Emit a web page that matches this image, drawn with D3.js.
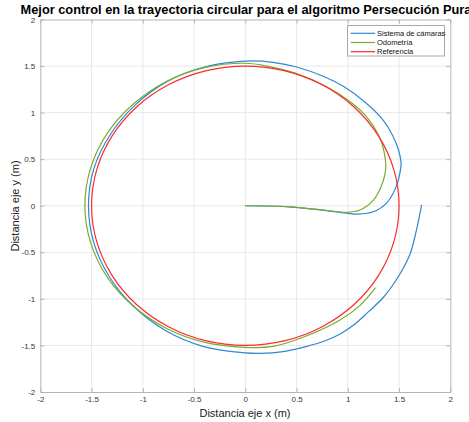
<!DOCTYPE html>
<html>
<head>
<meta charset="utf-8">
<script src="https://cdn.jsdelivr.net/npm/d3@7"></script>
<style>
  html, body { margin: 0; padding: 0; background: #fff; }
  svg { display: block; font-family: "Liberation Sans", Arial, sans-serif; }
</style>
</head>
<body>
<svg id="chart" width="469" height="422"></svg>
<script>
// Trajectory samples (x, y) in metres
const camaras = [
  [0, 0], [0.4, -0.01], [0.73, -0.045], [0.99, -0.08], [1.10, -0.09], [1.25, -0.065],
  [1.38, 0.03], [1.47, 0.2], [1.51, 0.36], [1.52, 0.45], [1.50, 0.58], [1.44, 0.75],
  [1.33, 0.94], [1.16, 1.12], [0.96, 1.28], [0.76, 1.39], [0.5, 1.49], [0.27, 1.54],
  [0.05, 1.555], [-0.40, 1.49], [-0.77, 1.33], [-1.078, 1.078], [-1.32, 0.76],
  [-1.478, 0.396], [-1.53, 0], [-1.478, -0.396], [-1.325, -0.765], [-1.085, -1.085],
  [-0.775, -1.342], [-0.405, -1.512], [0, -1.58], [0.15, -1.585], [0.35, -1.57],
  [0.6, -1.51], [0.78, -1.45], [0.92, -1.38], [1.07, -1.27], [1.2, -1.14], [1.35, -0.98],
  [1.51, -0.73], [1.61, -0.51], [1.67, -0.26], [1.72, 0.01]
];
const odometria = [
  [0, 0], [0.4, -0.01], [0.75, -0.045], [0.99, -0.07], [1.12, -0.045], [1.25, 0.06],
  [1.33, 0.22], [1.37, 0.40], [1.35, 0.60], [1.30, 0.76], [1.18, 0.96], [1.02, 1.12],
  [0.79, 1.28], [0.50, 1.42], [0.21, 1.50], [0, 1.53], [-0.397, 1.483], [-0.77, 1.334],
  [-1.092, 1.092], [-1.347, 0.778], [-1.509, 0.404], [-1.565, 0], [-1.507, -0.404],
  [-1.342, -0.775], [-1.085, -1.085], [-0.763, -1.32], [-0.393, -1.468], [0, -1.52],
  [0.27, -1.51], [0.57, -1.41], [0.92, -1.23], [1.12, -1.07], [1.27, -0.88]
];
const referencia = [
  [1.5, 0], [1.449, 0.388], [1.299, 0.75], [1.061, 1.061], [0.75, 1.299], [0.388, 1.449],
  [0, 1.5], [-0.388, 1.449], [-0.75, 1.299], [-1.061, 1.061], [-1.299, 0.75], [-1.449, 0.388],
  [-1.5, 0], [-1.449, -0.388], [-1.299, -0.75], [-1.061, -1.061], [-0.75, -1.299], [-0.388, -1.449],
  [0, -1.5], [0.388, -1.449], [0.75, -1.299], [1.061, -1.061], [1.299, -0.75], [1.449, -0.388]
];
const seriesNames = ["Sistema de cámaras", "Odometría", "Referencia"];
const seriesColors = ["#2f88d0", "#77ac30", "#ff2a2a"];
const xTicks = [-2, -1.5, -1, -0.5, 0, 0.5, 1, 1.5, 2];
const yTicks = [-2, -1.5, -1, -0.5, 0, 0.5, 1, 1.5, 2];

const svg = d3.select("#chart");
const plot = { left: 40.3, right: 450.3, top: 19.5, bottom: 392 };

const x = d3.scaleLinear().domain([-2, 2]).range([plot.left, plot.right]);
const y = d3.scaleLinear().domain([-2, 2]).range([plot.bottom, plot.top]);

// grid
const grid = svg.append("g").attr("stroke", "#e8e8e8").attr("stroke-width", 1);
xTicks.slice(1, -1).forEach(t => grid.append("line")
  .attr("x1", x(t)).attr("x2", x(t)).attr("y1", plot.top).attr("y2", plot.bottom));
yTicks.slice(1, -1).forEach(t => grid.append("line")
  .attr("y1", y(t)).attr("y2", y(t)).attr("x1", plot.left).attr("x2", plot.right));

// curves
const line = d3.line().x(d => x(d[0])).y(d => y(d[1])).curve(d3.curveCatmullRom.alpha(0.5));
const closed = d3.line().x(d => x(d[0])).y(d => y(d[1])).curve(d3.curveCatmullRomClosed.alpha(0.5));
const g = svg.append("g").attr("fill", "none").attr("stroke-width", 1.2);
g.append("path").attr("d", line(camaras)).attr("stroke", seriesColors[0]);
g.append("path").attr("d", line(odometria)).attr("stroke", seriesColors[1]);
g.append("path").attr("d", closed(referencia)).attr("stroke", seriesColors[2]);

// axes with inward ticks
const axisColor = "#b5b5b5";
const fmt = d => String(d);
const styleAxis = sel => {
  sel.select(".domain").attr("stroke", axisColor).attr("stroke-width", 1);
  sel.selectAll(".tick line").attr("stroke", axisColor);
  sel.selectAll(".tick text").attr("fill", "#333").attr("font-size", "8px")
    .attr("font-family", "Liberation Sans, Arial, sans-serif");
};
svg.append("g").attr("transform", `translate(0,${plot.bottom})`)
  .call(d3.axisBottom(x).tickValues(xTicks).tickFormat(fmt).tickSizeInner(-4).tickSizeOuter(0).tickPadding(4))
  .call(styleAxis);
svg.append("g").attr("transform", `translate(${plot.left},0)`)
  .call(d3.axisLeft(y).tickValues(yTicks).tickFormat(fmt).tickSizeInner(-4).tickSizeOuter(0).tickPadding(5))
  .call(styleAxis);
svg.append("g").attr("transform", `translate(0,${plot.top})`)
  .call(d3.axisTop(x).tickValues(xTicks).tickFormat("").tickSizeInner(-4).tickSizeOuter(0))
  .call(styleAxis);
svg.append("g").attr("transform", `translate(${plot.right},0)`)
  .call(d3.axisRight(y).tickValues(yTicks).tickFormat("").tickSizeInner(-4).tickSizeOuter(0))
  .call(styleAxis);

// title and axis labels
svg.append("text").attr("x", 246).attr("y", 14).attr("text-anchor", "middle")
  .attr("font-size", "12.8px").attr("font-weight", "bold").attr("fill", "#000")
  .text("Mejor control en la trayectoria circular para el algoritmo Persecución Pura");
svg.append("text").attr("x", 245).attr("y", 417).attr("text-anchor", "middle")
  .attr("font-size", "11px").attr("fill", "#222").text("Distancia eje x (m)");
svg.append("text").attr("transform", "translate(19,206) rotate(-90)").attr("text-anchor", "middle")
  .attr("font-size", "11px").attr("fill", "#222").text("Distancia eje y (m)");

// legend
const lg = svg.append("g");
lg.append("rect").attr("x", 347.5).attr("y", 25.5).attr("width", 97).attr("height", 30.5)
  .attr("fill", "#fff").attr("stroke", "#a8a8a8").attr("stroke-width", 1);
seriesNames.forEach((name, i) => {
  const yy = 33.3 + i * 9.2;
  lg.append("line").attr("x1", 350.7).attr("x2", 375).attr("y1", yy).attr("y2", yy)
    .attr("stroke", seriesColors[i]).attr("stroke-width", 1.2);
  lg.append("text").attr("x", 377).attr("y", yy + 2.7).attr("font-size", "7.5px")
    .attr("fill", "#111").text(name);
});
</script>
</body>
</html>
